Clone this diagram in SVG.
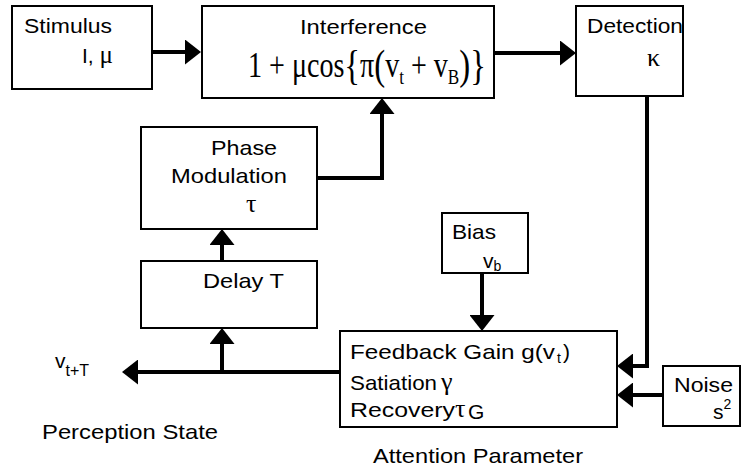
<svg xmlns="http://www.w3.org/2000/svg" width="741" height="472" viewBox="0 0 741 472">
<style>
.box{fill:#fff;stroke:#000;stroke-width:2}
.c{fill:none;stroke:#000;stroke-width:4}
.s{font-family:"Liberation Sans",Arial,sans-serif;font-size:21px;fill:#000}
.m{font-family:"Liberation Serif","Times New Roman",serif;fill:#000}
.sub{font-size:14px}
</style>
<defs>
<marker id="ah" markerUnits="userSpaceOnUse" markerWidth="16" markerHeight="25" refX="2" refY="12.5" orient="auto" viewBox="0 0 16 25">
<path d="M0,0 L16,12.5 L0,25 z" fill="#000"/>
</marker>
</defs>
<rect width="741" height="472" fill="#fff"/>
<g id="connectors">
<path class="c" d="M152,52 H187" marker-end="url(#ah)"/>
<path class="c" d="M494,53 H562" marker-end="url(#ah)"/>
<path class="c" d="M647,96 V366 H631" marker-end="url(#ah)"/>
<path class="c" d="M663,395 H631" marker-end="url(#ah)"/>
<path class="c" d="M482,273 V317" marker-end="url(#ah)"/>
<path class="c" d="M340,372 H136" marker-end="url(#ah)"/>
<path class="c" d="M222,372 V342" marker-end="url(#ah)"/>
<path class="c" d="M222,261 V243" marker-end="url(#ah)"/>
<path class="c" d="M317,178 H382 V112" marker-end="url(#ah)"/>
</g>
<g id="stimulus">
<rect class="box" x="12" y="6" width="140" height="83"/>
<text class="s" x="24" y="33" textLength="88" lengthAdjust="spacingAndGlyphs">Stimulus</text>
<text class="s" x="82" y="63">I, <tspan class="m" font-size="25">μ</tspan></text>
</g>
<g id="interference">
<rect class="box" x="202" y="6" width="292" height="92"/>
<text class="s" x="300" y="34" textLength="127" lengthAdjust="spacingAndGlyphs">Interference</text>
<g transform="translate(248,77) scale(0.78,1)">
<text class="m" font-size="36" x="0" y="0">1 + μcos<tspan font-size="42" dy="2">{</tspan><tspan dy="-2">π</tspan><tspan font-size="42" dy="2">(</tspan><tspan dy="-2">v</tspan><tspan font-size="22" dy="7">t</tspan><tspan dy="-7"> + v</tspan><tspan font-size="22" dy="7">B</tspan><tspan font-size="42" dy="-5">)}</tspan></text>
</g>
</g>
<g id="detection">
<rect class="box" x="576" y="6" width="107" height="90"/>
<text class="s" x="587" y="33" textLength="96" lengthAdjust="spacingAndGlyphs">Detection</text>
<text class="m" font-size="26" x="647" y="66">κ</text>
</g>
<g id="phase">
<rect class="box" x="141" y="127" width="176" height="102"/>
<text class="s" x="211" y="155" textLength="66" lengthAdjust="spacingAndGlyphs">Phase</text>
<text class="s" x="171" y="183" textLength="116" lengthAdjust="spacingAndGlyphs">Modulation</text>
<text class="m" font-size="26" x="246" y="212">τ</text>
</g>
<g id="delay">
<rect class="box" x="141" y="261" width="176" height="67"/>
<text class="s" x="203" y="288" textLength="81" lengthAdjust="spacingAndGlyphs">Delay T</text>
</g>
<g id="bias">
<rect class="box" x="442" y="213" width="86" height="60"/>
<text class="s" x="452" y="239" textLength="44" lengthAdjust="spacingAndGlyphs">Bias</text>
<text class="s" x="483" y="268">v<tspan class="sub" dy="3">b</tspan></text>
</g>
<g id="attention">
<rect class="box" x="340" y="331" width="277" height="96"/>
<text class="s" x="350" y="359" textLength="205" lengthAdjust="spacingAndGlyphs">Feedback Gain g(v</text>
<text class="s sub" x="557" y="363">t</text>
<text class="s" x="563" y="359">)</text>
<text class="s" x="350" y="390" textLength="87" lengthAdjust="spacingAndGlyphs">Satiation</text>
<text class="m" font-size="26" x="441" y="390">γ</text>
<text class="s" x="350" y="417" textLength="105" lengthAdjust="spacingAndGlyphs">Recovery</text>
<text class="m" font-size="26" x="455" y="417">τ</text>
<text class="s" font-size="15" x="468" y="419">G</text>
</g>
<g id="noise">
<rect class="box" x="663" y="366" width="77" height="60"/>
<text class="s" x="674" y="392" textLength="59" lengthAdjust="spacingAndGlyphs">Noise</text>
<text class="s" x="713" y="419">s<tspan class="sub" dy="-10">2</tspan></text>
</g>
<g id="perception">
<text class="s" x="55" y="368">v<tspan font-size="16" dy="8">t+T</tspan></text>
<text class="s" x="42" y="439" textLength="176" lengthAdjust="spacingAndGlyphs">Perception State</text>
</g>
<g id="attention-label">
<text class="s" x="373" y="463" textLength="210" lengthAdjust="spacingAndGlyphs">Attention Parameter</text>
</g>
</svg>
